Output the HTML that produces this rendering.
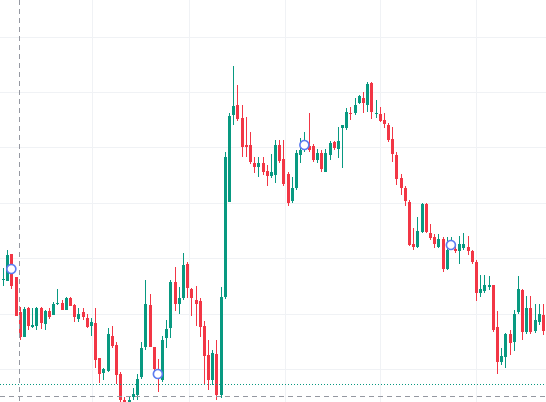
<!DOCTYPE html>
<html><head><meta charset="utf-8">
<style>
html,body{margin:0;padding:0;background:#fff;}
#chart{display:block;width:546px;height:402px;}
</style></head>
<body>
<svg id="chart" width="546" height="402" xmlns="http://www.w3.org/2000/svg"></svg>
<script>
const opens  = [122,121,148,125,90,65,94,75,76,94,78,91,87,98,99,92,104,97,83,90,84,76,79,44,29,31,66,57,28,2,-13,5,7,25,55,97,55,30,22,64,74,120,98,104,138,113,102,101,76,47,22,48,7,105,200,287,297,284,257,257,239,235,239,231,226,227,257,243,228,201,214,247,254,256,256,242,249,230,247,260,253,274,274,289,289,299,304,297,319,288,288,282,277,263,247,224,214,200,158,155,170,198,169,165,155,163,133,155,153,151,154,155,151,140,109,111,115,117,75,40,45,68,60,90,112,70,94,71,80,87];
const highs  = [134,152,148,125,95,95,95,94,95,95,92,94,100,113,102,105,105,98,94,94,88,84,94,44,34,74,76,60,30,5,5,14,28,60,122,108,55,43,66,82,122,135,115,149,140,114,116,104,81,62,52,62,115,250,289,336,317,297,285,270,245,245,245,237,248,262,262,262,230,225,252,264,270,289,258,253,252,253,261,261,275,277,294,295,304,307,310,320,320,302,295,289,279,275,250,228,216,202,174,185,199,199,178,168,168,165,165,165,157,166,169,166,152,142,127,127,126,117,91,54,69,72,92,126,113,106,106,98,98,98];
const lows   = [116,121,113,86,62,65,72,74,72,73,72,83,87,97,92,92,96,80,80,82,74,66,34,19,22,30,54,18,-8,-20,-18,2,2,23,52,55,30,10,20,54,64,91,88,102,104,86,76,65,18,12,17,2,4,103,200,277,281,245,245,238,229,225,227,216,224,219,239,216,196,199,212,239,250,250,240,239,230,230,242,252,244,234,272,282,287,298,289,290,283,284,280,274,260,240,217,207,196,156,152,154,169,169,162,154,154,130,132,152,149,138,152,147,138,101,105,109,112,70,28,37,34,47,51,88,62,68,68,69,77,67];
const closes = [123,147,116,86,65,93,76,77,94,79,91,85,98,99,92,104,96,85,88,85,75,80,42,28,33,68,56,27,2,-13,2,8,23,54,98,55,33,26,62,73,120,98,104,137,114,104,98,75,46,22,49,7,105,245,286,296,283,255,255,240,235,239,230,226,230,257,241,218,199,214,249,252,258,252,242,249,233,249,259,254,261,277,290,288,297,306,299,318,290,289,281,278,262,248,223,214,201,157,155,171,198,170,164,158,163,133,152,159,151,158,158,151,140,109,113,117,117,72,40,46,68,59,88,113,70,94,70,82,88,71];
const markerIndex = [2,37,72,107];
const markerValue = [133,28,257,157];
const dottedLevel = 18;
const dashedLevel = 6;
const dashedIndex = 3.8;
const gridLevels = [365,310,255,199,144,88,33];
const gridIndex = [21.3,44.4,67.4,90.1,113.0];

const svg = document.getElementById('chart');
const NS = 'http://www.w3.org/2000/svg';
const W = 546, H = 402;
const x0 = 3, step = 4.186;
function xScale(i){ return x0 + i*step; }
function yScale(p){ return 402 - p; }
function mk(tag, attrs){
  const e = document.createElementNS(NS, tag);
  for (const k in attrs) e.setAttribute(k, attrs[k]);
  svg.appendChild(e);
  return e;
}
// grid
gridLevels.forEach(v=>{
  const l = mk('line',{x1:0,x2:W,y1:yScale(v)+0.5,y2:yScale(v)+0.5,stroke:'#f0f2f5','stroke-width':1});
  
  
});
gridIndex.forEach(v=>{
  const xx = Math.round(xScale(v))+0.5;
  const l = mk('line',{x1:xx,x2:xx,y1:0,y2:H,stroke:'#f0f2f5','stroke-width':1});
  
  
});
// candles
for (let i=0;i<opens.length;i++){
  const o=opens[i], c=closes[i], h=highs[i], lo=lows[i];
  const up = c>=o;
  const col = up ? '#089981' : '#f23645';
  const cx = Math.round(xScale(i))+0.5;
  const g = mk('g',{});
  
  
  const w = document.createElementNS(NS,'line');
  w.setAttribute('x1',cx); w.setAttribute('x2',cx);
  w.setAttribute('y1',yScale(h)); w.setAttribute('y2',yScale(lo));
  w.setAttribute('stroke',col); w.setAttribute('stroke-width',1);
  
  
  g.appendChild(w);
  const top = yScale(Math.max(o,c)), bot = yScale(Math.min(o,c));
  const r = document.createElementNS(NS,'rect');
  r.setAttribute('x',cx-1.5); r.setAttribute('width',3);
  r.setAttribute('y',top); r.setAttribute('height',Math.max(1,bot-top));
  r.setAttribute('fill',col);
  
  
  g.appendChild(r);
}
// dotted price line
const dl = mk('line',{x1:0,x2:W,y1:yScale(dottedLevel)+0.5,y2:yScale(dottedLevel)+0.5,stroke:'#089981','stroke-width':1,'stroke-dasharray':'1 2'});


// crosshair dashed
const ch = mk('line',{x1:0,x2:W,y1:yScale(dashedLevel)+0.5,y2:yScale(dashedLevel)+0.5,stroke:'#9598a1','stroke-width':1,'stroke-dasharray':'5 4'});


const cxv = Math.round(xScale(dashedIndex))+0.5;
const cv = mk('line',{x1:cxv,x2:cxv,y1:0,y2:H,stroke:'#9598a1','stroke-width':1,'stroke-dasharray':'5 4'});


// markers
markerIndex.forEach((idx,k)=>{
  const m = mk('circle',{cx:xScale(idx),cy:yScale(markerValue[k]),r:4.5,fill:'#fff',stroke:'#5b7cf0','stroke-width':1.6});
  
  
});
</script>
</body></html>
